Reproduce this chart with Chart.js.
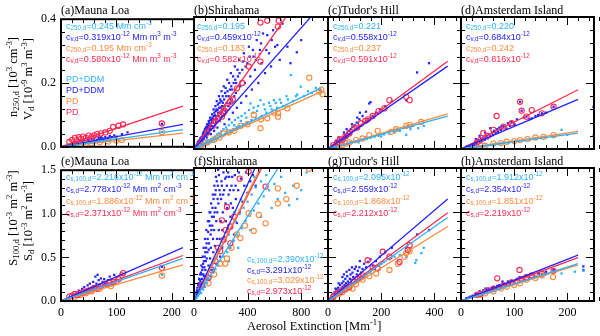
<!DOCTYPE html>
<html>
<head>
<meta charset="utf-8">
<script src="https://cdn.jsdelivr.net/npm/chart.js@4.4.1/dist/chart.umd.min.js"></script>
<style>
html,body{margin:0;padding:0;background:#fff;}
#wrap{position:relative;width:600px;height:336px;background:#fff;overflow:hidden;}
.t{position:absolute;white-space:nowrap;line-height:1;transform:translateY(-50%);}
.sb{font-size:0.7em;vertical-align:-0.3em;line-height:0;}
.sp{font-size:0.7em;vertical-align:0.55em;line-height:0;}
.rot{position:absolute;white-space:nowrap;line-height:1;transform:translate(-50%,-50%) rotate(-90deg);}
</style>
</head>
<body>
<div id="wrap"></div>
<script>
// ---------------- DATA ----------------
const stations = ["Mauna Loa", "Shirahama", "Tudor's Hill", "Amsterdam Island"];
const panelLetters = ["a","b","c","d","e","f","g","h"];
const xMax = [240, 1000, 500, 250];
const xStep = [100, 400, 200, 100];
const yMaxTop = 0.4, yStepTop = 0.2;
const yMaxBottom = 1.5, yStepBottom = 0.5;
const fitEnd = [220, 950, 450, 220];

// regression slopes (through origin)
const slopeN250_DDM = [0.245, 0.195, 0.221, 0.220];
const slopeV_DDM    = [0.319, 0.459, 0.558, 0.684];
const slopeN250_PD  = [0.195, 0.183, 0.237, 0.242];
const slopeV_PD     = [0.580, 0.582, 0.591, 0.816];
const slopeS100_DDM = [2.216, 2.390, 2.095, 1.912];
const slopeS_DDM    = [2.778, 3.291, 2.559, 2.354];
const slopeS100_PD  = [1.886, 3.029, 1.868, 1.851];
const slopeS_PD     = [2.371, 2.973, 2.212, 2.219];

// ---- Mauna Loa ----
const ML_V_DDM = [[15,0.006],[20,0.008],[22,0.012],[25,0.01],[28,0.014],[30,0.009],[32,0.016],[35,0.012],[38,0.018],[40,0.014],[42,0.02],[45,0.016],[48,0.022],[50,0.018],[52,0.014],[55,0.024],[58,0.02],[60,0.026],[62,0.018],[65,0.022],[68,0.028],[70,0.024],[72,0.03],[75,0.026],[78,0.02],[80,0.03],[85,0.028],[88,0.034],[92,0.03],[96,0.036],[100,0.032],[110,0.04],[120,0.045],[182,0.072]];
const ML_n250_DDM = [[15,0.004],[20,0.005],[25,0.007],[30,0.006],[35,0.009],[40,0.01],[45,0.011],[50,0.012],[55,0.014],[60,0.013],[65,0.016],[70,0.018],[75,0.017],[80,0.02],[85,0.021],[90,0.022],[100,0.025],[182,0.047]];
const ML_n250_PD = [[25,0.005],[35,0.007],[45,0.009],[55,0.011],[70,0.014],[85,0.017],[100,0.02],[110,0.021],[182,0.046]];
const ML_V_PD = [[15,0.015],[20,0.022],[25,0.028],[28,0.02],[32,0.03],[36,0.025],[40,0.032],[45,0.028],[50,0.035],[55,0.03],[60,0.036],[65,0.04],[72,0.042],[80,0.045],[88,0.05],[94,0.062],[104,0.066],[112,0.07],[182,0.073]];
const ML_S_DDM = [[15,0.04],[20,0.06],[22,0.08],[25,0.05],[28,0.1],[30,0.07],[32,0.12],[35,0.09],[38,0.14],[40,0.1],[42,0.16],[45,0.12],[48,0.18],[50,0.14],[52,0.2],[55,0.15],[58,0.22],[60,0.17],[62,0.28],[64,0.2],[66,0.3],[68,0.24],[70,0.19],[72,0.26],[75,0.22],[78,0.25],[80,0.2],[85,0.24],[88,0.28],[92,0.25],[96,0.3],[100,0.27],[110,0.3],[182,0.39]];
const ML_S100_DDM = [[15,0.03],[20,0.05],[25,0.06],[30,0.07],[35,0.08],[40,0.09],[45,0.1],[50,0.11],[55,0.13],[60,0.14],[65,0.15],[70,0.16],[75,0.17],[80,0.18],[85,0.19],[90,0.2],[100,0.23],[182,0.3]];
const ML_S100_PD = [[25,0.05],[35,0.07],[45,0.09],[55,0.11],[70,0.14],[80,0.2],[90,0.17],[100,0.22],[110,0.3],[182,0.29]];
const ML_S_PD = [[15,0.05],[20,0.06],[25,0.08],[30,0.07],[35,0.09],[40,0.1],[45,0.11],[50,0.12],[55,0.13],[60,0.15],[65,0.14],[72,0.17],[80,0.19],[88,0.21],[95,0.22],[104,0.25],[112,0.32],[182,0.38]];

// ---- Shirahama ----
const SH_V_DDM = [[18,0.008],[25,0.014],[32,0.02],[38,0.012],[45,0.028],[50,0.018],[55,0.035],[62,0.025],[66,0.045],[72,0.03],[78,0.055],[84,0.04],[88,0.065],[95,0.035],[98,0.075],[104,0.05],[110,0.085],[115,0.06],[120,0.095],[126,0.045],[130,0.07],[135,0.105],[140,0.08],[146,0.12],[150,0.055],[155,0.09],[160,0.13],[166,0.1],[170,0.145],[175,0.065],[180,0.11],[186,0.16],[192,0.085],[198,0.125],[205,0.175],[210,0.1],[215,0.14],[222,0.19],[228,0.075],[235,0.115],[240,0.16],[248,0.21],[255,0.13],[262,0.09],[268,0.18],[275,0.23],[282,0.15],[290,0.11],[296,0.2],[305,0.25],[312,0.17],[320,0.125],[328,0.22],[336,0.27],[345,0.19],[352,0.14],[360,0.24],[372,0.29],[380,0.2],[390,0.16],[398,0.26],[410,0.31],[420,0.22],[432,0.18],[445,0.28],[455,0.24],[468,0.33],[480,0.2],[492,0.3],[505,0.26],[515,0.35],[530,0.23],[547,0.345],[560,0.29],[575,0.25],[590,0.36],[605,0.31],[622,0.315],[640,0.27],[660,0.38],[697,0.31],[720,0.26],[767,0.293],[800,0.33],[20,0.012],[28,0.02],[35,0.025],[42,0.018],[48,0.032],[58,0.028],[64,0.038],[70,0.05],[75,0.042],[82,0.06],[90,0.05],[96,0.068],[102,0.062],[108,0.072],[112,0.08],[118,0.07],[124,0.088],[128,0.06],[132,0.09],[138,0.095],[142,0.068],[148,0.1],[152,0.11],[158,0.075],[162,0.115],[168,0.12],[172,0.09],[178,0.135],[184,0.1],[190,0.14],[195,0.15],[200,0.11],[208,0.13],[218,0.12],[225,0.15],[232,0.17],[245,0.14],[258,0.16],[270,0.14],[285,0.18],[300,0.16],[315,0.2],[30,0.016],[40,0.022],[52,0.026],[60,0.036],[68,0.032],[80,0.048],[86,0.052],[92,0.058],[100,0.045],[106,0.066],[116,0.078],[122,0.058],[134,0.082],[144,0.09],[156,0.102],[164,0.082],[176,0.118],[188,0.125],[196,0.095],[204,0.145],[214,0.16],[226,0.13],[236,0.185],[250,0.175],[262,0.2],[278,0.19],[292,0.22],[308,0.21],[325,0.24],[340,0.23],[365,0.265],[385,0.25],[415,0.28],[440,0.3],[462,0.27],[500,0.32],[540,0.3],[580,0.33]];
const SH_n250_DDM = [[20,0.004],[30,0.007],[40,0.006],[45,0.01],[55,0.012],[60,0.008],[70,0.015],[75,0.011],[85,0.018],[90,0.014],[100,0.022],[105,0.016],[112,0.026],[120,0.02],[128,0.03],[135,0.022],[142,0.034],[150,0.026],[158,0.038],[165,0.03],[172,0.044],[180,0.034],[188,0.048],[195,0.038],[205,0.054],[212,0.04],[220,0.06],[230,0.045],[240,0.065],[250,0.05],[260,0.072],[270,0.055],[282,0.08],[295,0.06],[305,0.088],[318,0.066],[330,0.095],[340,0.07],[355,0.1],[368,0.075],[380,0.108],[395,0.08],[410,0.118],[421,0.138],[430,0.088],[445,0.125],[460,0.095],[478,0.13],[496,0.148],[505,0.1],[520,0.135],[540,0.11],[560,0.14],[580,0.12],[596,0.148],[620,0.125],[640,0.15],[665,0.13],[690,0.16],[722,0.224],[740,0.145],[770,0.165],[797,0.189],[820,0.16],[850,0.175],[880,0.17],[910,0.185],[940,0.178],[35,0.01],[65,0.018],[95,0.026],[125,0.024],[160,0.032],[200,0.046],[245,0.058],[300,0.072],[350,0.085],[390,0.095],[440,0.11],[470,0.115],[530,0.12],[570,0.13],[610,0.14],[650,0.14],[700,0.15],[760,0.16]];
const SH_n250_PD = [[60,0.012],[100,0.02],[150,0.028],[190,0.035],[220,0.047],[260,0.05],[300,0.055],[346,0.07],[400,0.075],[446,0.103],[496,0.063],[500,0.09],[547,0.093],[600,0.11],[627,0.108],[627,0.098],[697,0.123],[860,0.216],[935,0.174],[960,0.166],[950,0.18]];
const SH_V_PD = [[100,0.05],[140,0.07],[160,0.085],[180,0.09],[208,0.098],[220,0.108],[230,0.115],[250,0.125],[271,0.143],[290,0.15],[321,0.184],[360,0.2],[408,0.25],[496,0.265],[496,0.383],[547,0.389],[626,0.371],[632,0.389]];
const SH_S_DDM = [[15,0.05],[22,0.12],[28,0.08],[35,0.2],[40,0.12],[45,0.3],[50,0.18],[55,0.4],[60,0.25],[65,0.5],[70,0.3],[72,0.6],[78,0.38],[82,0.7],[88,0.45],[92,0.8],[96,0.3],[100,0.55],[104,0.9],[108,0.4],[112,0.65],[116,1.0],[120,0.48],[124,0.75],[128,1.1],[132,0.35],[136,0.85],[140,1.2],[144,0.55],[148,0.95],[152,1.3],[156,0.62],[160,1.05],[164,1.4],[168,0.42],[172,0.7],[176,1.15],[180,1.48],[185,0.8],[190,1.25],[195,0.5],[200,0.9],[205,1.35],[210,0.6],[215,1.0],[220,1.45],[228,0.72],[235,1.1],[242,1.4],[250,0.82],[258,1.2],[265,0.6],[272,0.95],[280,1.3],[290,1.05],[298,0.75],[305,1.42],[312,1.15],[320,0.88],[330,1.25],[340,1.0],[350,1.38],[362,1.12],[375,1.3],[388,1.45],[400,1.22],[420,1.35],[440,1.42],[460,1.3],[18,0.08],[25,0.15],[30,0.1],[38,0.25],[42,0.16],[48,0.22],[52,0.32],[58,0.2],[62,0.35],[68,0.42],[75,0.28],[80,0.5],[85,0.35],[90,0.6],[95,0.48],[102,0.7],[110,0.58],[118,0.85],[126,0.6],[134,0.95],[142,0.7],[150,0.8],[158,1.2],[166,0.9],[174,1.0],[182,1.1],[192,0.7],[202,1.15],[212,0.8],[225,1.25],[238,0.9],[248,1.05],[262,1.4],[275,1.1],[295,1.25],[20,0.1],[32,0.18],[44,0.24],[56,0.3],[64,0.38],[74,0.45],[84,0.55],[94,0.65],[106,0.78],[114,0.9],[122,1.0],[130,0.8],[138,1.05],[146,1.15],[154,1.0],[162,1.25],[170,1.35],[178,1.3],[186,1.42],[196,1.2],[208,1.3],[218,1.2],[232,1.38],[245,1.3],[255,1.45],[268,1.25],[285,1.4],[310,1.3],[335,1.45]];
const SH_S100_DDM = [[20,0.03],[30,0.06],[38,0.08],[45,0.1],[52,0.09],[60,0.15],[68,0.13],[75,0.2],[82,0.16],[90,0.24],[98,0.2],[105,0.3],[112,0.24],[120,0.35],[128,0.28],[136,0.4],[145,0.32],[152,0.45],[160,0.36],[170,0.5],[180,0.4],[190,0.56],[200,0.45],[210,0.62],[222,0.5],[235,0.68],[248,0.55],[260,0.75],[272,0.6],[285,0.82],[298,0.68],[310,0.9],[325,0.74],[340,0.98],[355,0.82],[370,1.05],[385,0.9],[400,1.12],[415,0.96],[430,1.2],[446,1.02],[460,1.28],[480,1.1],[500,1.35],[520,1.18],[540,1.42],[560,1.25],[580,1.05],[600,1.32],[625,1.15],[650,1.4],[680,1.22],[710,1.08],[740,1.3],[770,1.15],[800,1.25],[840,1.45],[260,0.45],[330,0.6],[420,0.8],[500,0.95],[40,0.12],[70,0.22],[100,0.26],[140,0.44],[175,0.55],[215,0.7],[255,0.85],[300,1.0],[350,1.15],[395,1.3],[450,1.4]];
const SH_S100_PD = [[108,0.2],[150,0.3],[196,0.42],[233,0.42],[246,0.48],[280,0.6],[320,0.75],[346,0.71],[380,0.85],[408,0.99],[446,0.79],[483,0.97],[534,0.876],[626,1.1],[626,1.27],[689,1.15],[767,1.3],[859,1.49]];
const SH_S_PD = [[60,0.18],[108,0.26],[133,0.35],[160,0.45],[180,0.6],[196,0.56],[208,0.91],[220,0.69],[235,0.8],[246,1.06],[271,0.65],[271,0.84],[300,0.95],[341,1.38],[408,1.46],[534,1.29]];

// ---- Tudor's Hill ----
const TH_V_DDM = [[8,0.004],[12,0.008],[15,0.006],[18,0.012],[22,0.01],[25,0.016],[28,0.012],[32,0.02],[35,0.015],[38,0.024],[42,0.018],[45,0.028],[48,0.022],[52,0.032],[55,0.026],[58,0.036],[62,0.03],[65,0.042],[68,0.034],[72,0.048],[75,0.038],[78,0.055],[82,0.044],[85,0.06],[88,0.05],[92,0.066],[95,0.055],[100,0.072],[104,0.06],[108,0.08],[112,0.065],[118,0.09],[124,0.07],[130,0.1],[136,0.08],[143,0.113],[150,0.09],[155,0.138],[160,0.142],[168,0.1],[180,0.11],[195,0.12],[215,0.13],[240,0.145],[294,0.148],[335,0.232],[380,0.26],[60,0.05],[70,0.06],[90,0.075],[40,0.035],[30,0.025],[110,0.095],[120,0.11]];
const TH_n250_DDM = [[10,0.002],[20,0.004],[30,0.006],[40,0.008],[50,0.01],[60,0.012],[70,0.015],[80,0.017],[90,0.019],[100,0.021],[110,0.024],[120,0.026],[130,0.028],[145,0.03],[160,0.034],[175,0.037],[190,0.04],[210,0.044],[230,0.047],[250,0.05],[270,0.055],[294,0.043],[310,0.06],[339,0.063],[360,0.07],[25,0.008],[55,0.014],[85,0.022],[115,0.02],[140,0.035],[200,0.038],[260,0.06],[320,0.07]];
const TH_n250_PD = [[20,0.005],[40,0.01],[54,0.012],[67,0.017],[80,0.02],[105,0.027],[130,0.032],[155,0.042],[187,0.055],[237,0.052],[256,0.06],[294,0.07],[307,0.073],[350,0.082]];
const TH_V_PD = [[20,0.012],[35,0.02],[45,0.03],[54,0.027],[65,0.038],[80,0.047],[98,0.063],[110,0.065],[124,0.078],[140,0.085],[150,0.09],[168,0.1],[190,0.115],[212,0.123],[231,0.148],[294,0.158],[307,0.148]];
const TH_S_DDM = [[8,0.03],[12,0.05],[15,0.04],[18,0.08],[22,0.06],[25,0.1],[28,0.08],[28,0.14],[32,0.13],[35,0.1],[38,0.15],[40,0.2],[42,0.12],[45,0.18],[48,0.14],[52,0.2],[54,0.27],[55,0.16],[58,0.22],[60,0.3],[62,0.18],[65,0.25],[68,0.2],[70,0.33],[72,0.28],[75,0.22],[80,0.35],[82,0.25],[85,0.3],[88,0.24],[90,0.38],[92,0.32],[95,0.27],[100,0.36],[105,0.387],[108,0.3],[112,0.34],[118,0.38],[120,0.45],[124,0.32],[130,0.36],[136,0.42],[143,0.38],[150,0.44],[160,0.47],[168,0.4],[180,0.45],[195,0.5],[215,0.55],[240,0.6],[294,0.6],[335,0.75],[380,0.8]];
const TH_S100_DDM = [[10,0.02],[20,0.04],[25,0.06],[30,0.06],[40,0.08],[50,0.1],[55,0.12],[60,0.12],[70,0.14],[80,0.16],[85,0.2],[90,0.19],[100,0.21],[110,0.23],[120,0.25],[130,0.27],[140,0.3],[145,0.3],[160,0.33],[175,0.36],[190,0.4],[200,0.42],[210,0.44],[230,0.47],[250,0.5],[270,0.52],[294,0.5],[310,0.58],[328,0.43],[332,0.46],[351,0.54],[360,0.6]];
const TH_S100_PD = [[20,0.04],[40,0.075],[54,0.1],[67,0.13],[80,0.15],[92,0.14],[105,0.19],[130,0.24],[155,0.28],[181,0.31],[231,0.35],[263,0.42],[288,0.5],[294,0.54],[307,0.56]];
const TH_S_PD = [[20,0.05],[35,0.09],[45,0.1],[54,0.12],[65,0.14],[80,0.16],[98,0.22],[110,0.25],[120,0.27],[130,0.29],[149,0.46],[168,0.38],[187,0.37],[206,0.556],[231,0.5],[269,0.44],[300,0.575],[307,0.63]];

// ---- Amsterdam Island ----
const AI_V_DDM = [[10,0.005],[15,0.01],[18,0.008],[22,0.015],[25,0.012],[28,0.02],[28,0.03],[30,0.016],[33,0.025],[35,0.04],[36,0.02],[38,0.03],[40,0.024],[42,0.035],[45,0.028],[45,0.05],[48,0.04],[50,0.032],[52,0.045],[55,0.038],[55,0.063],[58,0.05],[60,0.042],[62,0.055],[65,0.048],[68,0.06],[70,0.052],[72,0.065],[75,0.058],[76,0.068],[80,0.07],[85,0.062],[88,0.078],[92,0.07],[95,0.082],[100,0.075],[101,0.073],[105,0.09],[111,0.143],[114,0.116],[118,0.095],[123,0.098],[129,0.09],[133,0.093],[140,0.1],[145,0.103],[152,0.108],[160,0.11],[174,0.128],[249,0.128]];
const AI_n250_DDM = [[10,0.002],[20,0.004],[25,0.006],[30,0.007],[35,0.008],[40,0.009],[45,0.01],[50,0.011],[55,0.012],[60,0.013],[65,0.015],[70,0.016],[75,0.017],[80,0.018],[90,0.02],[100,0.022],[110,0.024],[120,0.026],[130,0.028],[140,0.031],[150,0.033],[160,0.035],[174,0.038],[189,0.058],[200,0.043],[249,0.042]];
const AI_n250_PD = [[36,0.012],[45,0.01],[61,0.017],[75,0.018],[86,0.022],[100,0.024],[111,0.027],[125,0.03],[140,0.035],[155,0.037],[174,0.042]];
const AI_V_PD = [[30,0.02],[36,0.027],[42,0.048],[50,0.04],[61,0.058],[67,0.1],[80,0.068],[95,0.078],[111,0.143],[114,0.116],[123,0.098],[133,0.118],[152,0.108],[174,0.128]];
const AI_S_DDM = [[10,0.03],[15,0.04],[18,0.05],[22,0.06],[25,0.05],[28,0.08],[30,0.07],[33,0.09],[35,0.11],[36,0.08],[38,0.1],[40,0.09],[42,0.12],[45,0.1],[46,0.14],[48,0.13],[50,0.11],[52,0.14],[55,0.12],[58,0.15],[60,0.13],[62,0.16],[65,0.14],[68,0.17],[70,0.15],[72,0.18],[75,0.16],[78,0.22],[80,0.2],[85,0.18],[88,0.22],[92,0.2],[95,0.23],[100,0.22],[105,0.25],[110,0.27],[114,0.26],[118,0.24],[123,0.28],[129,0.26],[133,0.3],[140,0.28],[145,0.31],[152,0.3],[160,0.33],[174,0.35],[230,0.39],[230,0.35]];
const AI_S100_DDM = [[10,0.02],[20,0.04],[25,0.05],[30,0.06],[35,0.065],[40,0.075],[45,0.085],[50,0.095],[55,0.1],[60,0.11],[65,0.12],[70,0.13],[75,0.14],[80,0.15],[90,0.17],[100,0.19],[110,0.21],[120,0.23],[130,0.25],[140,0.27],[152,0.29],[160,0.3],[174,0.32],[189,0.31],[214,0.33],[230,0.34]];
const AI_S100_PD = [[36,0.07],[45,0.085],[61,0.11],[75,0.14],[86,0.16],[100,0.18],[111,0.2],[123,0.24],[140,0.26],[152,0.29],[173,0.27]];
const AI_S_PD = [[30,0.07],[36,0.08],[50,0.12],[61,0.14],[68,0.256],[80,0.18],[95,0.21],[110,0.35],[114,0.25],[123,0.27],[133,0.29],[152,0.31],[174,0.34]];

// ---------------- STYLE / LAYOUT ----------------
const SERIF = "'Liberation Serif','DejaVu Serif',serif";
const SANS = "'Liberation Sans',Arial,sans-serif";
const C_LB = '#2DB0FF', C_B = '#2424FF', C_OR = '#FF8A3D', C_RD = '#FF2A50';
const colEdges = [61, 194, 328, 461, 594];
const rowEdges = [[17, 149], [168, 301]];
const wrap = document.getElementById('wrap');

const framePlugin = {
  id: 'frame',
  afterDraw(chart, args, o) {
    const {ctx, chartArea: a} = chart;
    const xs = chart.scales.x, ys = chart.scales.y;
    ctx.save();
    ctx.strokeStyle = '#000';
    ctx.lineWidth = 1;
    ctx.beginPath();
    const nx = Math.round((xs.max - xs.min) / o.xMinor);
    for (let i = 0; i <= nx; i++) {
      const v = xs.min + i * o.xMinor;
      const len = (i % 5) === 0 ? 8 : 4;
      const px = Math.round(xs.getPixelForValue(v)) + 0.5;
      ctx.moveTo(px, a.bottom); ctx.lineTo(px, a.bottom - len);
      ctx.moveTo(px, a.top); ctx.lineTo(px, a.top + len);
    }
    const ny = Math.round((ys.max - ys.min) / o.yMinor);
    for (let i = 0; i <= ny; i++) {
      const v = ys.min + i * o.yMinor;
      const len = (i % 5) === 0 ? 8 : 4;
      const py = Math.round(ys.getPixelForValue(v)) + 0.5;
      ctx.moveTo(a.left, py); ctx.lineTo(a.left + len, py);
      ctx.moveTo(a.right, py); ctx.lineTo(a.right - len, py);
    }
    ctx.stroke();
    ctx.lineWidth = 2;
    ctx.strokeRect(a.left, a.top, a.right - a.left, a.bottom - a.top);
    ctx.restore();
  }
};

function pts(arr) { return arr.map(p => ({x: p[0], y: p[1]})); }
function fit(slope, c) { return [{x: 0, y: 0}, {x: fitEnd[c], y: slope * fitEnd[c] / 1000}]; }

function scatterSet(arr, kind, order) {
  const base = {data: pts(arr), showLine: false, clip: 0, order: order, pointBorderWidth: 0};
  if (kind === 'lb') return Object.assign(base, {pointStyle: 'rect', pointRadius: 1.6, pointBackgroundColor: C_LB, pointBorderColor: C_LB});
  if (kind === 'b') return Object.assign(base, {pointStyle: 'rect', pointRadius: 1.6, pointBackgroundColor: C_B, pointBorderColor: C_B});
  if (kind === 'or') return Object.assign(base, {pointStyle: 'circle', pointRadius: 2.6, pointBackgroundColor: 'rgba(0,0,0,0)', pointBorderColor: C_OR, pointBorderWidth: 1.1});
  return Object.assign(base, {pointStyle: 'circle', pointRadius: 2.6, pointBackgroundColor: 'rgba(0,0,0,0)', pointBorderColor: C_RD, pointBorderWidth: 1.1});
}
function lineSet(data, color) {
  return {data: data, showLine: true, pointRadius: 0, borderColor: color, borderWidth: 1.3, clip: 0, order: 0, fill: false};
}

const topSets = [
  [ML_n250_DDM, ML_V_DDM, ML_n250_PD, ML_V_PD],
  [SH_n250_DDM, SH_V_DDM, SH_n250_PD, SH_V_PD],
  [TH_n250_DDM, TH_V_DDM, TH_n250_PD, TH_V_PD],
  [AI_n250_DDM, AI_V_DDM, AI_n250_PD, AI_V_PD]
];
const bottomSets = [
  [ML_S100_DDM, ML_S_DDM, ML_S100_PD, ML_S_PD],
  [SH_S100_DDM, SH_S_DDM, SH_S100_PD, SH_S_PD],
  [TH_S100_DDM, TH_S_DDM, TH_S100_PD, TH_S_PD],
  [AI_S100_DDM, AI_S_DDM, AI_S100_PD, AI_S_PD]
];

function makePanel(r, c) {
  const sets = r === 0 ? topSets[c] : bottomSets[c];
  const slopes = r === 0
    ? [slopeN250_DDM[c], slopeV_DDM[c], slopeN250_PD[c], slopeV_PD[c]]
    : [slopeS100_DDM[c], slopeS_DDM[c], slopeS100_PD[c], slopeS_PD[c]];
  const showY = c === 0, showX = r === 1;
  const padL = showY ? 61 : 10, padR = 10, padT = 10, padB = showX ? 34 : 10;
  const L = colEdges[c], R = colEdges[c + 1], T = rowEdges[r][0], B = rowEdges[r][1];
  const w = R - L + padL + padR, h = B - T + padT + padB;
  const cv = document.createElement('canvas');
  cv.width = w; cv.height = h;
  cv.style.cssText = `position:absolute;left:${L - padL}px;top:${T - padT}px;width:${w}px;height:${h}px;`;
  wrap.appendChild(cv);
  const datasets = [
    lineSet(fit(slopes[0], c), C_LB),
    lineSet(fit(slopes[1], c), C_B),
    lineSet(fit(slopes[2], c), C_OR),
    lineSet(fit(slopes[3], c), C_RD),
    scatterSet(sets[3], 'rd', 1),
    scatterSet(sets[2], 'or', 2),
    scatterSet(sets[0], 'lb', 3),
    scatterSet(sets[1], 'b', 4)
  ];
  const yMax = r === 0 ? yMaxTop : yMaxBottom;
  const yStep = r === 0 ? yStepTop : yStepBottom;
  new Chart(cv, {
    type: 'scatter',
    data: {datasets},
    options: {
      responsive: false, animation: false, devicePixelRatio: 1,
      layout: {padding: {left: showY ? 0 : padL, right: padR, top: padT, bottom: showX ? 0 : padB}},
      plugins: {legend: {display: false}, tooltip: {enabled: false},
        frame: {xMinor: xStep[c] / 5, yMinor: yStep / 5}},
      events: [],
      scales: {
        x: {type: 'linear', min: 0, max: xMax[c], display: showX,
          afterFit: s => { s.height = showX ? 34 : 0; },
          grid: {display: false, drawTicks: false}, border: {display: false},
          ticks: {stepSize: xStep[c], includeBounds: false, autoSkip: false, maxRotation: 0, padding: 5,
            color: '#000', font: {family: SERIF, size: 12}, callback: v => String(v)}},
        y: {type: 'linear', min: 0, max: yMax, display: showY,
          afterFit: s => { s.width = showY ? 61 : 0; },
          grid: {display: false, drawTicks: false}, border: {display: false},
          ticks: {stepSize: yStep, includeBounds: false, autoSkip: false, padding: 5,
            color: '#000', font: {family: SERIF, size: 12}, callback: v => v.toFixed(1)}}
      }
    },
    plugins: [framePlugin]
  });
}

for (let r = 0; r < 2; r++) for (let c = 0; c < 4; c++) makePanel(r, c);

// ---------------- TEXT ----------------
const sb = t => `<span class="sb">${t}</span>`;
const sp = t => `<span class="sp">${t}</span>`;
function addText(html, x, y, color, font, size) {
  const d = document.createElement('div');
  d.className = 't';
  d.style.left = x + 'px'; d.style.top = y + 'px';
  d.style.color = color; d.style.fontFamily = font; d.style.fontSize = size + 'px';
  d.innerHTML = html;
  wrap.appendChild(d);
}
function addRot(html, x, y, size) {
  const d = document.createElement('div');
  d.className = 'rot';
  d.style.left = x + 'px'; d.style.top = y + 'px';
  d.style.fontFamily = SERIF; d.style.fontSize = size + 'px'; d.style.color = '#000';
  d.innerHTML = html;
  wrap.appendChild(d);
}

// panel titles
for (let r = 0; r < 2; r++) for (let c = 0; c < 4; c++) {
  addText(`(${panelLetters[r * 4 + c]})${stations[c]}`, colEdges[c], rowEdges[r][0] - 7.5, '#000', SERIF, 12);
}

// coefficient annotations
const colors4 = [C_LB, C_B, C_OR, C_RD];
const annX = [66, 197, 333, 466];
const topY = [26, 37, 48, 59];
const botY = [177, 189, 201, 213];
for (let c = 0; c < 4; c++) {
  const u = c === 0;
  addText(`c${sb('250,d')}=${slopeN250_DDM[c].toFixed(3)}` + (u ? ` Mm cm${sp('-3')}` : ''), annX[c], topY[0], C_LB, SANS, 9);
  addText(`c${sb('v,d')}=${slopeV_DDM[c].toFixed(3)}x10${sp('-12')}` + (u ? ` Mm m${sp('3')} m${sp('-3')}` : ''), annX[c], topY[1], C_B, SANS, 9);
  addText(`c${sb('250,d')}=${slopeN250_PD[c].toFixed(3)}` + (u ? ` Mm cm${sp('-3')}` : ''), annX[c], topY[2], C_OR, SANS, 9);
  addText(`c${sb('v,d')}=${slopeV_PD[c].toFixed(3)}x10${sp('-12')}` + (u ? ` Mm m${sp('3')} m${sp('-3')}` : ''), annX[c], topY[3], C_RD, SANS, 9);
  const bx = c === 1 ? 247 : annX[c];
  const by = c === 1 ? [259, 269.5, 280, 290.5] : botY;
  const bu = u ? ` Mm m${sp('2')} cm${sp('-3')}` : '';
  addText(`c${sb('s,100,d')}=${slopeS100_DDM[c].toFixed(3)}x10${sp('-12')}` + bu, bx, by[0], C_LB, SANS, 9);
  addText(`c${sb('s,d')}=${slopeS_DDM[c].toFixed(3)}x10${sp('-12')}` + bu, bx, by[1], C_B, SANS, 9);
  addText(`c${sb('s,100,d')}=${slopeS100_PD[c].toFixed(3)}x10${sp('-12')}` + bu, bx, by[2], C_OR, SANS, 9);
  addText(`c${sb('s,d')}=${slopeS_PD[c].toFixed(3)}x10${sp('-12')}` + bu, bx, by[3], C_RD, SANS, 9);
}

// legend in panel (a)
const legendLabels = ['PD+DDM', 'PD+DDM', 'PD', 'PD'];
const legY = [78.5, 89.5, 100.5, 112];
for (let i = 0; i < 4; i++) addText(legendLabels[i], 66, legY[i], colors4[i], SANS, 9);

// axis titles
addRot(`n${sb('250,d')} [10${sp('3')} cm${sp('-3')}]`, 13, 77, 12.5);
addRot(`V${sb('d')} [10${sp('-9')} m${sp('3')} m${sp('-3')}]`, 28, 79, 12.5);
addRot(`S${sb('100,d')} [10${sp('-3')} m${sp('2')} m${sp('-3')}]`, 13, 218, 12.5);
addRot(`S${sb('d')} [10${sp('-3')} m${sp('2')} m${sp('-3')}]`, 28, 221, 12.5);
addText(`Aerosol Extinction [Mm${sp('-1')}]`, 247, 325.5, '#000', SERIF, 12.5);
</script>
</body>
</html>
